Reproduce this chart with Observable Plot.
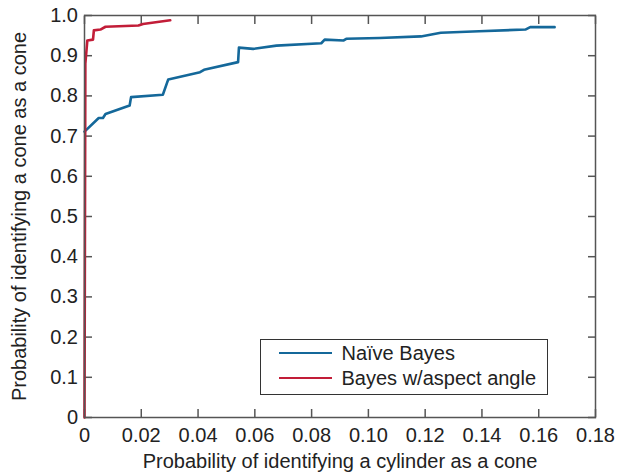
<!DOCTYPE html>
<html>
<head>
<meta charset="utf-8">
<script src="https://cdn.jsdelivr.net/npm/d3@7"></script>
<script src="https://cdn.jsdelivr.net/npm/@observablehq/plot@0.6"></script>
<style>
  html, body { margin: 0; padding: 0; background: #fff; }
  #wrap { position: relative; width: 624px; height: 472px; font-family: "Liberation Sans", Arial, sans-serif; }
  #wrap svg text { font-size: 20px !important; }
  #legend { position: absolute; left: 260px; top: 339px; width: 288px; height: 56px; border: 1.5px solid #333; background: #fff; box-sizing: border-box; }
  .item { position: absolute; left: 0; height: 20px; line-height: 20px; display: flex; align-items: center; font-size: 20px; color: #222; }
  .swatch { width: 53px; height: 0; border-top: 2.6px solid; margin-left: 17.5px; margin-right: 10px; }
</style>
</head>
<body>
<div id="wrap"></div>
<script>
const naiveX = [0, 0.005, 0.0065, 0.0074, 0.0159, 0.0164, 0.0276, 0.0295, 0.0407, 0.0421, 0.0541, 0.0544, 0.0594, 0.0676, 0.0834, 0.0846, 0.0913, 0.0922, 0.1039, 0.1185, 0.1255, 0.139, 0.1553, 0.157, 0.1656];
const naiveY = [0.711, 0.745, 0.745, 0.755, 0.776, 0.797, 0.803, 0.841, 0.859, 0.865, 0.884, 0.920, 0.917, 0.925, 0.931, 0.940, 0.938, 0.942, 0.944, 0.948, 0.957, 0.961, 0.965, 0.971, 0.971];
const aspectX = [0, 0.0003, 0.001, 0.003, 0.0033, 0.0056, 0.0074, 0.019, 0.0206, 0.0302];
const aspectY = [0, 0.88, 0.938, 0.940, 0.963, 0.965, 0.972, 0.975, 0.979, 0.988];
const xTicks = [0, 0.02, 0.04, 0.06, 0.08, 0.10, 0.12, 0.14, 0.16, 0.18];
const xTickLabels = ["0", "0.02", "0.04", "0.06", "0.08", "0.10", "0.12", "0.14", "0.16", "0.18"];
const yTicks = [0, 0.1, 0.2, 0.3, 0.4, 0.5, 0.6, 0.7, 0.8, 0.9, 1.0];
const yTickLabels = ["0", "0.1", "0.2", "0.3", "0.4", "0.5", "0.6", "0.7", "0.8", "0.9", "1.0"];
const seriesNames = ["Naïve Bayes", "Bayes w/aspect angle"];
const seriesColors = ["#14689a", "#c21d38"];
const xTitle = "Probability of identifying a cylinder as a cone";
const yTitle = "Probability of identifying a cone as a cone";

const naive = naiveX.map((x, i) => ({x, y: naiveY[i]}));
const aspect = aspectX.map((x, i) => ({x, y: aspectY[i]}));
const xfmt = d => xTickLabels[xTicks.findIndex(t => Math.abs(t - d) < 1e-9)];
const yfmt = d => yTickLabels[yTicks.findIndex(t => Math.abs(t - d) < 1e-9)];

const plot = Plot.plot({
  width: 624,
  height: 472,
  marginLeft: 84,
  marginRight: 29,
  marginTop: 15,
  marginBottom: 55,
  style: {fontFamily: "Liberation Sans, Arial, sans-serif", fontSize: "20px", color: "#222", background: "#fff", overflow: "visible"},
  x: {domain: [0, 0.18]},
  y: {domain: [0, 1]},
  marks: [
    Plot.axisX(xTicks, {anchor: "bottom", tickSize: -8, text: null, label: null, stroke: "#555", strokeWidth: 1.5}),
    Plot.axisX(xTicks, {anchor: "top", tickSize: -8, text: null, label: null, stroke: "#555", strokeWidth: 1.5}),
    Plot.axisY(yTicks, {anchor: "left", tickSize: -8, text: null, label: null, stroke: "#555", strokeWidth: 1.5}),
    Plot.axisY(yTicks, {anchor: "right", tickSize: -8, text: null, label: null, stroke: "#555", strokeWidth: 1.5}),
    Plot.axisX(xTicks, {anchor: "bottom", tickSize: 0, tickPadding: 10, tickFormat: xfmt, fontSize: 20, fill: "#222", label: xTitle, labelAnchor: "center", labelOffset: 50, labelArrow: "none"}),
    Plot.axisY(yTicks, {anchor: "left", tickSize: 0, tickPadding: 6.5, tickFormat: yfmt, fontSize: 20, fill: "#222", label: yTitle, labelAnchor: "center", labelOffset: 73, labelArrow: "none"}),
    Plot.line(naive, {x: "x", y: "y", stroke: seriesColors[0], strokeWidth: 2.6, curve: "linear"}),
    Plot.line(aspect, {x: "x", y: "y", stroke: seriesColors[1], strokeWidth: 2.6, curve: "linear"}),
    Plot.frame({stroke: "#555", strokeWidth: 1.5})
  ]
});

const wrap = document.getElementById("wrap");
wrap.appendChild(plot);
const legend = document.createElement("div");
legend.id = "legend";
seriesNames.forEach((name, i) => {
  const item = document.createElement("div");
  item.className = "item";
  item.style.top = (i === 0 ? 2.6 : 27.6) + "px";
  const sw = document.createElement("span");
  sw.className = "swatch";
  sw.style.borderColor = seriesColors[i];
  const t = document.createElement("span");
  t.textContent = name;
  item.appendChild(sw);
  item.appendChild(t);
  legend.appendChild(item);
});
wrap.appendChild(legend);
</script>
</body>
</html>
